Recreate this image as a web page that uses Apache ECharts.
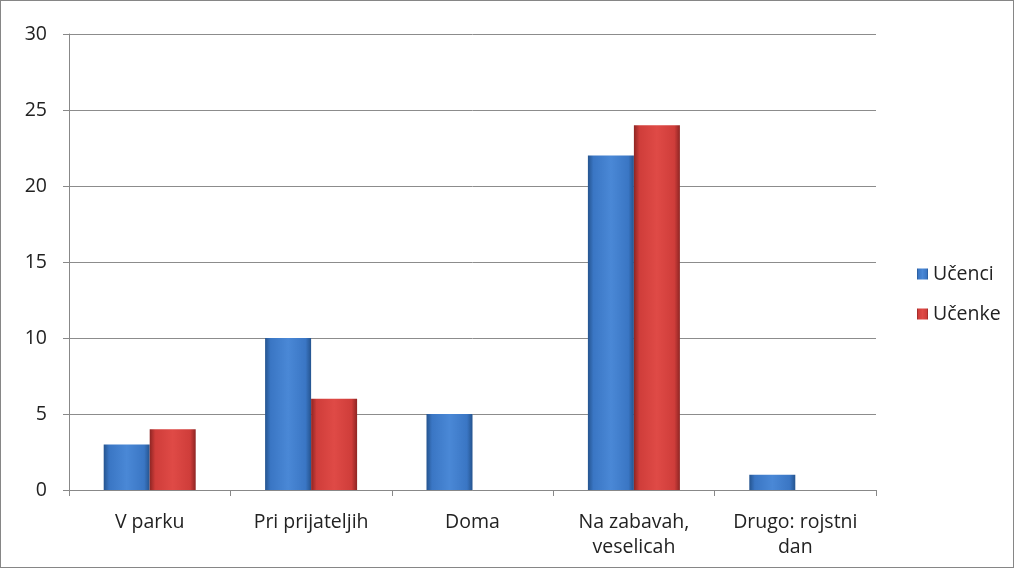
<!DOCTYPE html>
<html><head><meta charset="utf-8">
<script src="https://cdn.jsdelivr.net/npm/echarts@6/dist/echarts.min.js"></script>
<style>html,body{margin:0;padding:0;background:#fff}#c{width:1014px;height:568px;box-sizing:border-box;border:1px solid #868686}</style>
</head><body><div id="c"></div>
<script>
const categories = ['V parku', 'Pri prijateljih', 'Doma', 'Na zabavah,\nveselicah', 'Drugo: rojstni\ndan'];
const ucenci = [3, 10, 5, 22, 1];
const ucenke = [4, 6, 0, 24, 0];
const yTicks = [0, 5, 10, 15, 20, 25, 30];

function grad(edge, mid, light) {
  return new echarts.graphic.LinearGradient(0, 0, 1, 0, [
    {offset: 0, color: edge}, {offset: 0.12, color: mid}, {offset: 0.5, color: light},
    {offset: 0.88, color: mid}, {offset: 1, color: edge}]);
}
const font = '"Open Sans", "Noto Sans", sans-serif';
const chart = echarts.init(document.getElementById('c'));
chart.setOption({
  animation: false,
  textStyle: {fontFamily: font},
  grid: {left: 68, right: 137, top: 33, bottom: 77, containLabel: false},
  legend: {
    orient: 'vertical', left: 911, top: 258, itemGap: 20, itemWidth: 11, itemHeight: 11,
    icon: 'rect', textStyle: {fontSize: 19.5, color: '#222', fontFamily: font},
    data: ['Učenci', 'Učenke']
  },
  xAxis: {
    type: 'category', data: categories,
    axisLine: {lineStyle: {color: '#888', width: 1}},
    axisTick: {show: true, length: 6, lineStyle: {color: '#888'}},
    axisLabel: {fontSize: 19.5, color: '#222', margin: 20, lineHeight: 25, interval: 0, fontFamily: font}
  },
  yAxis: {
    type: 'value', min: 0, max: 30, interval: 5,
    axisLine: {show: true, lineStyle: {color: '#888'}},
    axisTick: {show: true, length: 6, inside: false, lineStyle: {color: '#888'}},
    axisLabel: {fontSize: 19.5, color: '#222', margin: 22, fontFamily: font,
      formatter: v => yTicks.includes(v) ? String(v) : ''},
    splitLine: {lineStyle: {color: '#8c8c8c', width: 1}}
  },
  series: [
    {name: 'Učenci', type: 'bar', data: ucenci, barGap: '0%', barCategoryGap: '43%',
      itemStyle: {color: grad('#25548f', '#3a76c4', '#4a88d6'), borderWidth: 0}},
    {name: 'Učenke', type: 'bar', data: ucenke,
      itemStyle: {color: grad('#8e2523', '#cf3d3a', '#df4a46'), borderWidth: 0}}
  ]
});
</script></body></html>
